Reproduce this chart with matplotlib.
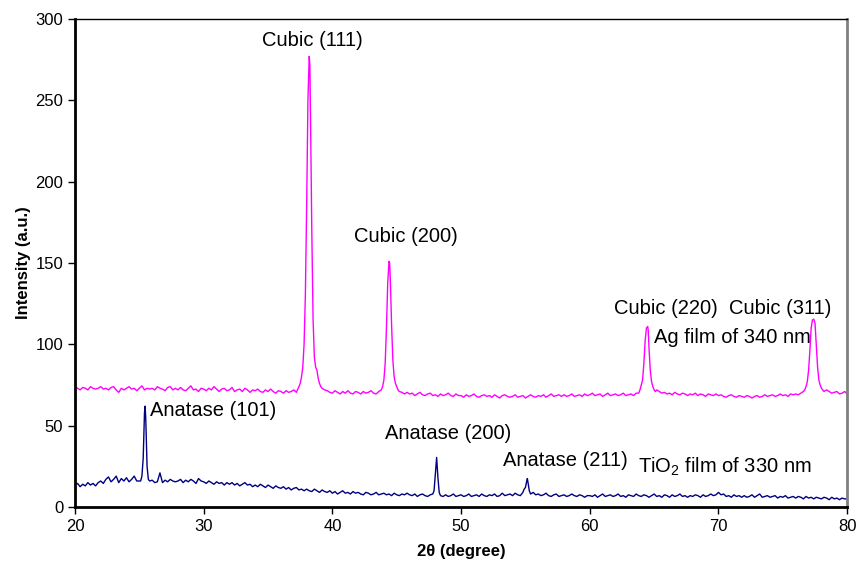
import matplotlib
matplotlib.use("Agg")
import matplotlib.pyplot as plt
import numpy as np

plt.rcParams["font.family"] = ["Liberation Sans", "DejaVu Sans"]
plt.rcParams["mathtext.fontset"] = "custom"
plt.rcParams["mathtext.rm"] = "Liberation Sans"
plt.rcParams["mathtext.it"] = "Liberation Sans:italic"

# scan grid of the baselines, 20-80 deg in 0.2 deg steps
scan_start, scan_stop, scan_points = 20.0, 80.0, 301

# Ag film baseline
ag_base = [
    74, 73, 72, 73.5, 73, 72, 74, 73, 72.5, 73,
    74, 72.5, 73, 72, 73.5, 74, 72, 70.5, 73, 72,
    73, 74, 72.5, 73, 71.5, 73, 74.5, 72, 73, 72.5,
    73, 72, 74, 73, 72.5, 71.5, 73.5, 74, 72, 73,
    72, 73.5, 72, 71.5, 73, 74.5, 72, 72.5, 71, 73,
    72.5, 71.5, 73, 72, 74, 72.5, 71, 72.5, 73, 71.5,
    72, 73.5, 71, 72, 72.5, 71, 73, 72, 70.5, 72,
    71.5, 72.5, 71, 70.5, 72, 71, 72.5, 71, 70, 71.5,
    71, 70, 71.5, 70.5, 71, 72, 70.5, 73, 76, 80,
    71, 71, 71, 71, 71, 71, 73, 72, 71.5, 70.5,
    70, 71.5, 70.5, 69.5, 71, 70, 71.5, 70, 69.5, 71,
    70.5, 69.5, 71, 70, 70.5, 71.5, 70, 69.5, 71, 72,
    71, 71, 71, 71, 71, 71, 71, 70.5, 69.5, 70.5,
    69.5, 70, 68.5, 69.5, 70.5, 69, 68.5, 69.5, 70, 68.5,
    69, 68, 69.5, 68.5, 69, 70, 68.5, 68, 69.5, 68.5,
    68.5, 67.5, 69, 68, 68.5, 69.5, 68, 67.5, 68.5, 69,
    68, 68.5, 67.5, 69, 68, 67, 68.5, 69, 68, 67.5,
    68, 69, 67.5, 68, 68.5, 67, 68, 69, 68, 67.5,
    68.5, 68, 69, 67.5, 68.5, 69.5, 68, 68.5, 69, 68,
    69, 68, 68.5, 69.5, 68, 68.5, 69, 68, 69.5, 68.5,
    69, 70, 68.5, 69, 69.5, 68, 69, 70, 68.5, 69,
    69.5, 68.5, 69, 70, 68.5, 69, 69.5, 68.5, 70, 70,
    70, 70, 70, 70, 70, 70, 72, 71, 70, 70.5,
    69.5, 70, 69, 70.5, 69.5, 69, 70, 69.5, 68.5, 69.5,
    69, 70, 68.5, 69.5, 69, 68, 69.5, 69, 68.5, 69.5,
    68.5, 69, 68, 67.5, 68.5, 69, 68, 67.5, 68.5, 68,
    67.5, 68.5, 68, 67, 68, 68.5, 67.5, 68, 69, 68,
    68.5, 69, 68, 68.5, 69.5, 68.5, 69, 68, 69.5, 69,
    69.5, 69, 70, 70.5, 71, 71, 71, 71, 71, 71,
    71, 71, 72, 71, 70, 70.5, 71, 69.5, 70, 71,
    69.5,
]

# Ag reflections
ag111_x = [37.4, 37.5, 37.6, 37.7, 37.8, 37.9, 38.0, 38.1, 38.2, 38.25,
           38.3, 38.4, 38.5, 38.6, 38.7, 38.8, 38.9, 39.0, 39.1, 39.2]
ag111_y = [74, 76, 80, 86, 100, 130, 185, 250, 277, 272,
           240, 170, 115, 92, 86, 84, 79, 76, 74, 73]
ag200_x = [43.8, 43.9, 44.0, 44.1, 44.2, 44.3, 44.4, 44.45, 44.5, 44.6,
           44.7, 44.8, 44.9, 45.0, 45.1, 45.2]
ag200_y = [72, 74, 78, 88, 110, 138, 151, 150, 140, 112,
           90, 80, 76, 74, 72, 71]
ag220_x = [63.8, 63.9, 64.0, 64.1, 64.2, 64.3, 64.4, 64.5, 64.55, 64.6,
           64.7, 64.8, 64.9, 65.0, 65.1]
ag220_y = [70, 72, 75, 78, 88, 102, 110, 111, 108, 98,
           84, 77, 74, 72, 71]
ag311_x = [76.6, 76.7, 76.8, 76.9, 77.0, 77.1, 77.2, 77.3, 77.4, 77.5,
           77.6, 77.7, 77.8, 77.9, 78.0, 78.1, 78.2]
ag311_y = [71, 72, 74, 77, 84, 96, 110, 115, 115.5, 113,
           100, 86, 78, 75, 73, 72, 71]

# TiO2 film baseline (navy trace)
ti_base = [
    13.5, 14.5, 12.5, 14, 13, 15, 13.5, 14.5, 13, 15,
    16, 14.5, 17, 18.5, 15.5, 17, 19, 15, 17.5, 16,
    18, 15.5, 17, 19, 16, 16, 16, 16, 16, 15,
    16.5, 15, 15.5, 21, 15, 16.5, 15.5, 17, 16, 15.5,
    16, 17, 15, 16.5, 15.5, 17, 16, 14.5, 17.5, 16,
    15.5, 14.5, 16, 15, 14, 15.5, 14.5, 15, 13.5, 15,
    14, 15, 13.5, 14.5, 13, 14, 15, 13.5, 14, 12.5,
    13.5, 12.5, 14, 13, 12, 13.5, 12.5, 11.5, 13, 12,
    11.5, 12.5, 11, 12, 10.5, 11.5, 12, 10.5, 11, 10,
    11, 10, 9.5, 11, 10, 9, 10.5, 9.5, 9, 10,
    8.5, 9.5, 8, 9, 10, 8.5, 9, 8, 9.5, 8.5,
    9, 8, 7.5, 9, 8.5, 7.5, 8, 9, 7.5, 8,
    8.5, 7.5, 8, 7, 8.5, 7.5, 7, 8, 7.5, 8.5,
    7.5, 7, 8, 6.5, 7.5, 8, 7, 6.5, 7.5, 8,
    7, 7, 7, 6.5, 7.5, 6.5, 7, 8, 6.5, 7,
    7.5, 6.5, 7, 8, 6.5, 7, 7.5, 6.5, 8, 7,
    6.5, 7.5, 7, 8, 6.5, 7, 8.5, 7, 7.5, 8,
    7, 8.5, 7.5, 7, 8, 8, 8, 7, 9, 7.5,
    8, 7, 7.5, 8.5, 7, 6.5, 7.5, 8, 6.5, 7,
    7.5, 6.5, 7, 8, 7, 6.5, 7.5, 7, 6, 7,
    7, 6.5, 7.5, 6, 7, 8, 6.5, 7, 7.5, 6.5,
    7, 8, 6.5, 7, 6, 7.5, 7, 6.5, 8, 7,
    6.5, 7.5, 7, 6, 7, 8, 6.5, 7, 6, 7.5,
    7, 6, 7.5, 6.5, 7, 8, 6.5, 7, 6, 7,
    6.5, 7.5, 7, 6, 7.5, 6.5, 7, 8, 7, 7.5,
    9, 7.5, 8, 6.5, 7, 6, 7.5, 6.5, 7, 6,
    7, 6, 6.5, 7.5, 6, 7, 8, 6, 6.5, 7,
    6, 6.5, 7, 5.5, 6.5, 6, 7, 5.5, 6, 6.5,
    5.5, 6.5, 6, 5, 6.5, 5.5, 6, 5, 6, 5.5,
    5, 6, 5.5, 4.5, 6, 5, 5.5, 4.5, 5.5, 5,
    5,
]

# anatase reflections
an101_x = [25.1, 25.2, 25.3, 25.4, 25.45, 25.5, 25.6, 25.7, 25.8]
an101_y = [16, 19, 30, 58, 62, 54, 25, 17, 16]
an200_x = [47.8, 47.9, 48.0, 48.1, 48.2, 48.3, 48.4]
an200_y = [8, 10, 20, 30.5, 18, 9, 7]
an211_x = [54.7, 54.8, 54.9, 55.0, 55.1, 55.15, 55.2, 55.3, 55.4]
an211_y = [8, 9, 11, 12, 16, 17.5, 15, 10, 8]


def merge(base_y, peaks):
    x = np.linspace(scan_start, scan_stop, scan_points)
    y = np.asarray(base_y, dtype=float)
    keep = np.ones_like(x, dtype=bool)
    for px, _ in peaks:
        keep &= ~((x >= min(px) - 1e-9) & (x <= max(px) + 1e-9))
    xs = np.concatenate([x[keep]] + [np.asarray(px) for px, _ in peaks])
    ys = np.concatenate([y[keep]] + [np.asarray(py, dtype=float) for _, py in peaks])
    order = np.argsort(xs)
    return xs[order], ys[order]


ag_x, ag_y = merge(ag_base, [(ag111_x, ag111_y), (ag200_x, ag200_y),
                             (ag220_x, ag220_y), (ag311_x, ag311_y)])
ti_x, ti_y = merge(ti_base, [(an101_x, an101_y), (an200_x, an200_y),
                             (an211_x, an211_y)])

fig = plt.figure(figsize=(8.58, 5.66), dpi=100)
ax = fig.add_axes([0.0874, 0.1042, 0.9, 0.8622])

ax.plot(ag_x, ag_y, color="#FF00FF", linewidth=1.0)
ax.plot(ti_x, ti_y, color="#000080", linewidth=1.0)

ax.set_xlim(20, 80)
ax.set_ylim(0, 300)
ax.set_xticks(np.arange(20, 81, 10))
ax.set_yticks(np.arange(0, 301, 50))
ax.tick_params(direction="out", length=5, width=1, labelsize=12, colors="black")

ax.spines["left"].set_linewidth(2)
ax.spines["bottom"].set_linewidth(2)
ax.spines["top"].set_linewidth(1)
ax.spines["right"].set_linewidth(2)
ax.spines["right"].set_color("#808080")

ax.set_xlabel("2θ (degree)", fontsize=12, fontweight="bold", labelpad=7)
ax.set_ylabel("Intensity (a.u.)", fontsize=12, fontweight="bold", labelpad=3)

fs = 14.5
ax.text(38.46, 287, "Cubic (111)", ha="center", va="center", fontsize=fs)
ax.text(45.72, 166, "Cubic (200)", ha="center", va="center", fontsize=fs)
ax.text(65.93, 122, "Cubic (220)", ha="center", va="center", fontsize=fs)
ax.text(74.83, 122, "Cubic (311)", ha="center", va="center", fontsize=fs)
ax.text(65.02, 104, "Ag film of 340 nm", ha="left", va="center", fontsize=fs)
ax.text(25.83, 59.6, "Anatase (101)", ha="left", va="center", fontsize=fs)
ax.text(49.03, 45.5, "Anatase (200)", ha="center", va="center", fontsize=fs)
ax.text(58.12, 28.9, "Anatase (211)", ha="center", va="center", fontsize=fs)
ax.text(63.76, 24.6, "TiO$_2$ film of 330 nm", ha="left", va="center", fontsize=fs)

fig.savefig("out.png", dpi=100, facecolor="white")
